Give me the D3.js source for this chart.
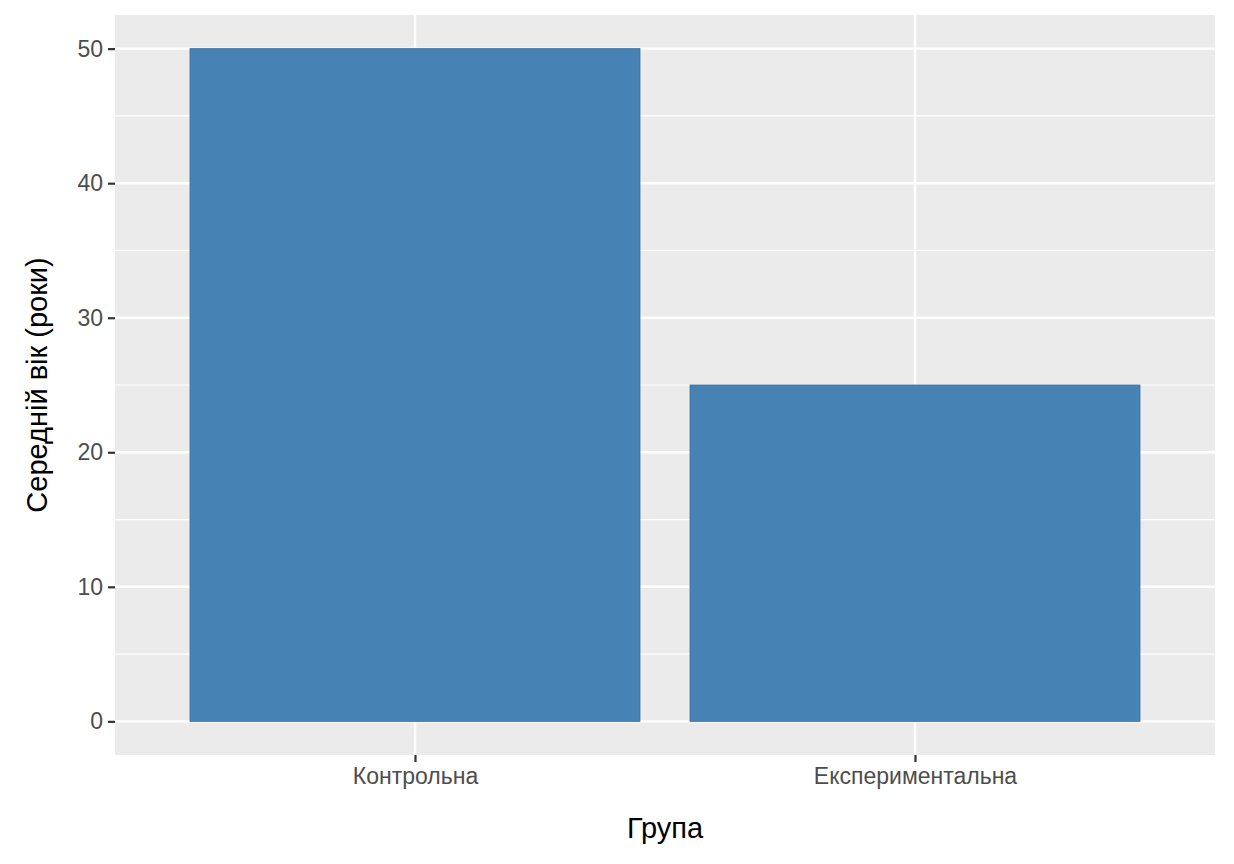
<!DOCTYPE html>
<html><head><meta charset="utf-8">
<script src="https://cdn.jsdelivr.net/npm/d3@7/dist/d3.min.js"></script>
<style>body{margin:0;background:#fff}</style></head>
<body><svg id="c" width="1234" height="864"></svg>
<script>
const categories = ["Контрольна", "Експериментальна"];
const values = [50, 25];
const yTicks = [0, 10, 20, 30, 40, 50];
const yMinor = [5, 15, 25, 35, 45];

const svg = d3.select("#c");
const L = 115, R = 1215, T = 15, B = 755;
const font = "'Liberation Sans', Arial, sans-serif";
const y = d3.scaleLinear().domain([-2.5, 52.5]).range([B, T]);
const x = d3.scaleLinear().domain([0.4, 2.6]).range([L, R]);
const xc = (c) => x(categories.indexOf(c) + 1);

svg.append("rect").attr("x", L).attr("y", T).attr("width", R - L).attr("height", B - T).attr("fill", "#ebebeb");
const g = svg.append("g");
yMinor.forEach(v => g.append("line").attr("x1", L).attr("x2", R).attr("y1", y(v)).attr("y2", y(v)).attr("stroke", "#fff").attr("stroke-width", 1.2));
yTicks.forEach(v => g.append("line").attr("x1", L).attr("x2", R).attr("y1", y(v)).attr("y2", y(v)).attr("stroke", "#fff").attr("stroke-width", 2.4));
categories.forEach(c => g.append("line").attr("x1", xc(c)).attr("x2", xc(c)).attr("y1", T).attr("y2", B).attr("stroke", "#fff").attr("stroke-width", 2.4));

svg.selectAll(".bar").data(categories).enter().append("rect")
  .attr("x", c => x(categories.indexOf(c) + 1 - 0.45))
  .attr("width", c => x(1.45) - x(0.55))
  .attr("y", (c, i) => y(values[i]))
  .attr("height", (c, i) => y(0) - y(values[i]))
  .attr("fill", "#4682b4").attr("stroke", "#3a70a0").attr("stroke-width", 0.8);

const yAxis = svg.append("g").attr("transform", `translate(${L},0)`)
  .call(d3.axisLeft(y).tickValues(yTicks).tickSize(7).tickPadding(5));
const xAxis = svg.append("g").attr("transform", `translate(0,${B})`)
  .call(d3.axisBottom(x).tickValues([1, 2]).tickFormat(d => categories[d - 1]).tickSize(7).tickPadding(6));
[yAxis, xAxis].forEach(a => {
  a.select(".domain").remove();
  a.selectAll("line").attr("stroke", "#333").attr("stroke-width", 2.2);
  a.selectAll("text").attr("fill", "#4d4d4d").style("font-size", "23px").style("font-family", font);
});

svg.append("text").attr("x", (L + R) / 2).attr("y", 838).attr("text-anchor", "middle")
  .style("font-size", "29px").style("font-family", font).text("Група");
svg.append("text").attr("transform", `translate(47,${(T + B) / 2}) rotate(-90)`).attr("text-anchor", "middle")
  .style("font-size", "29px").style("font-family", font).text("Середній вік (роки)");
</script></body></html>
